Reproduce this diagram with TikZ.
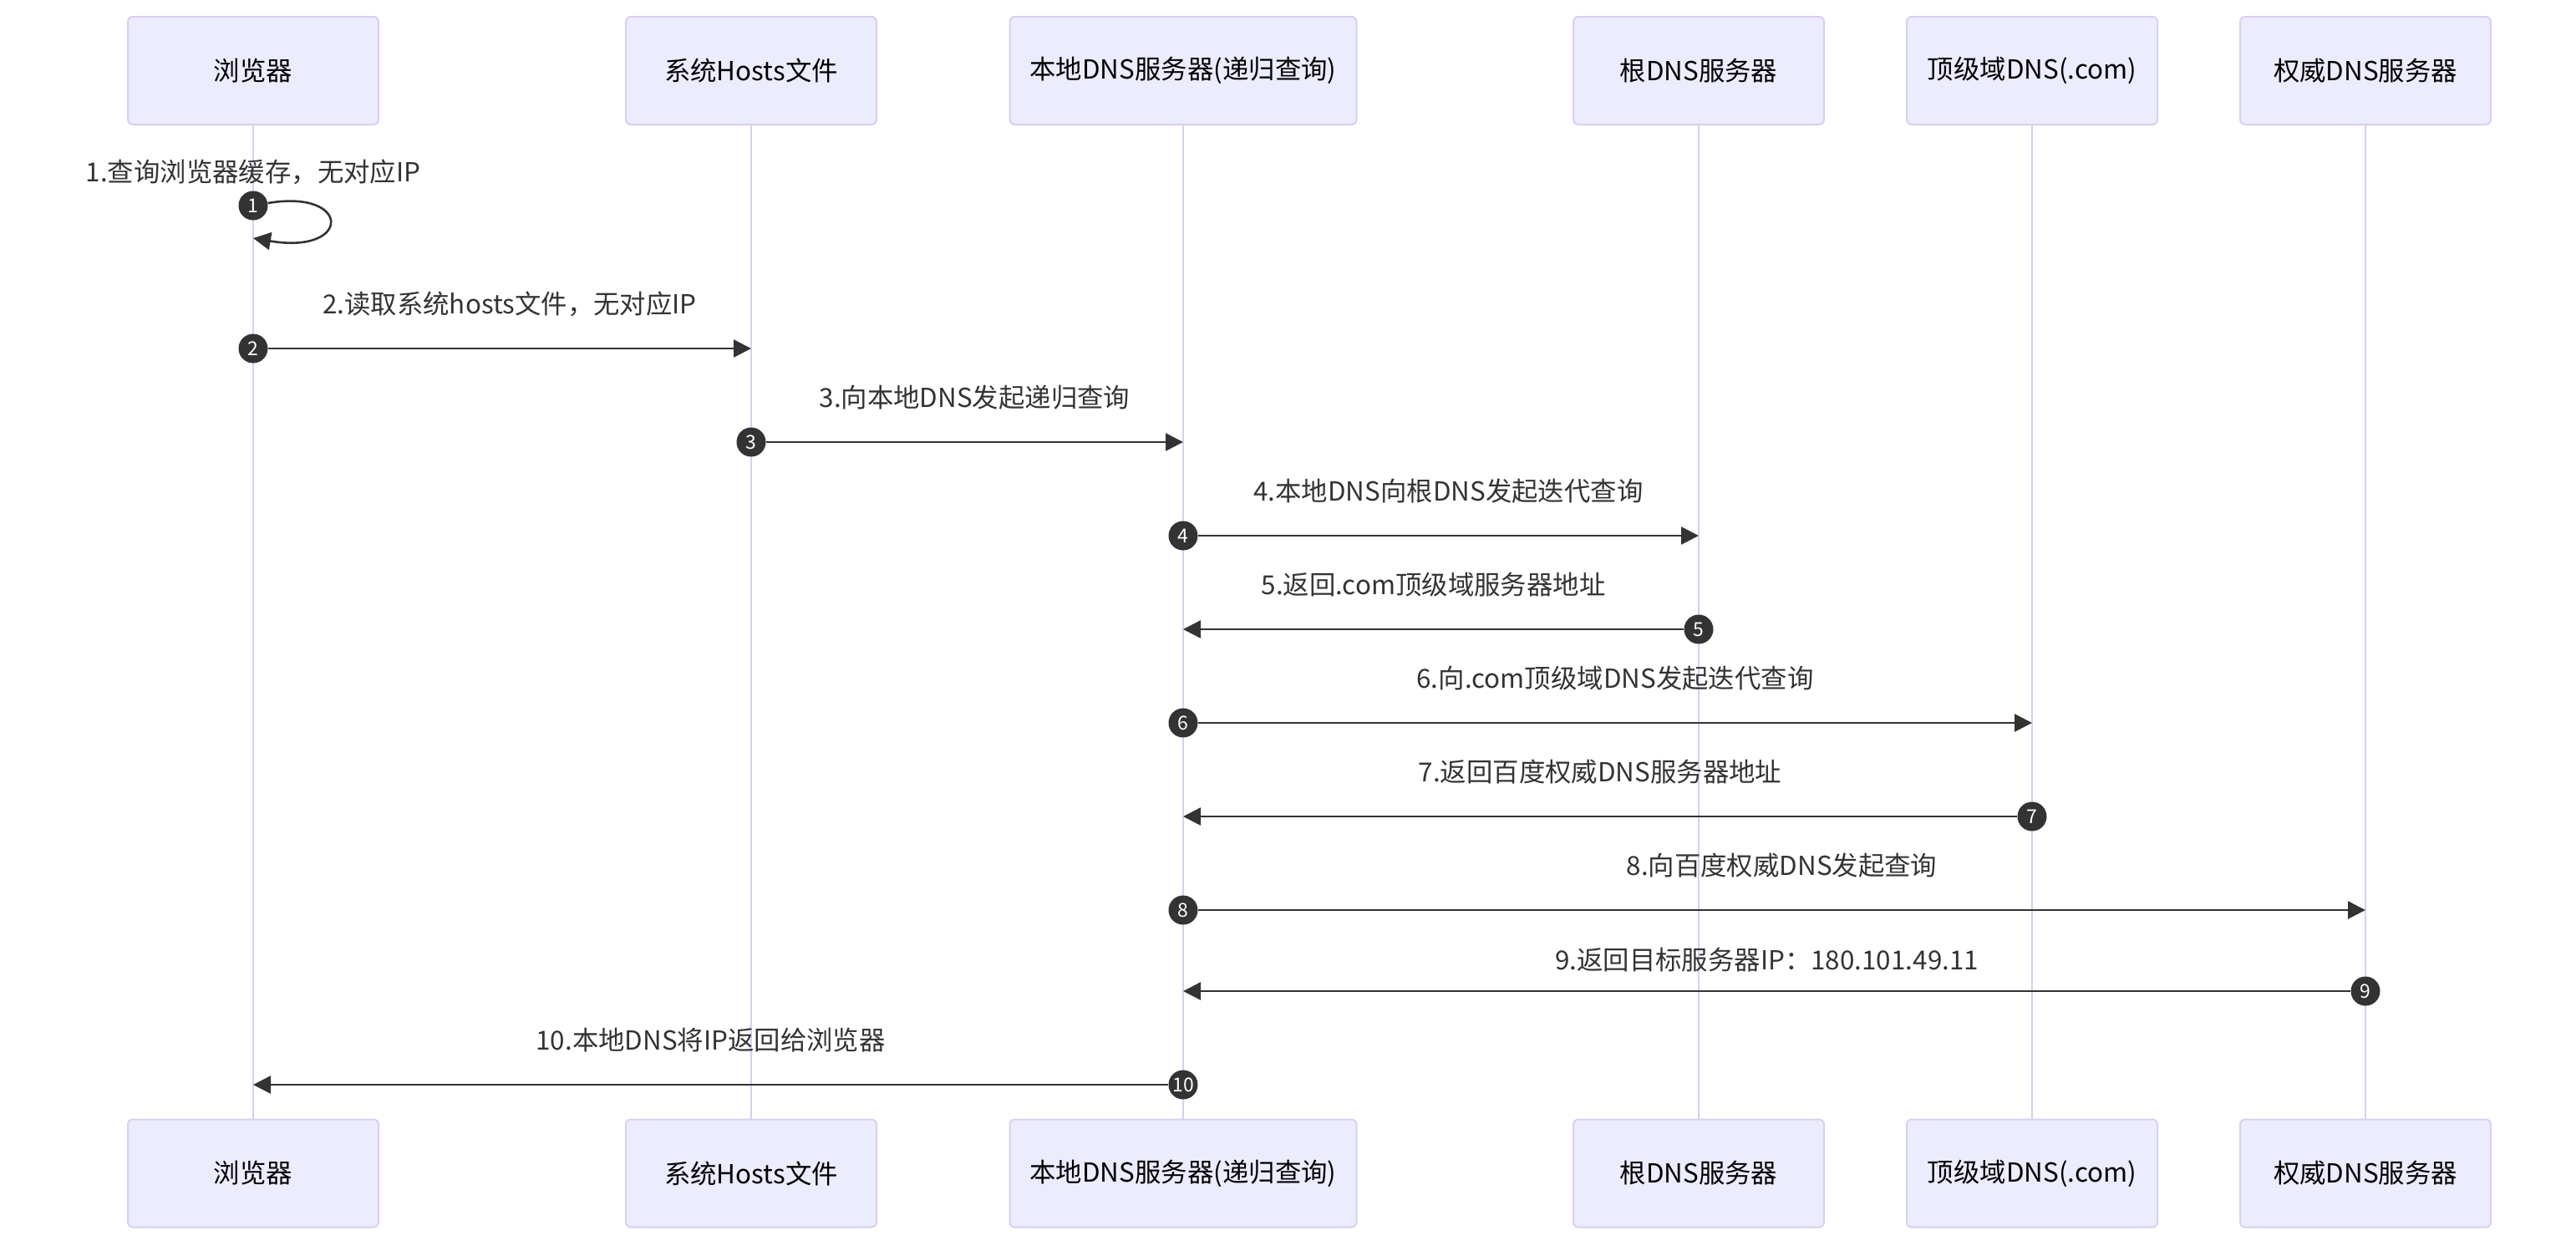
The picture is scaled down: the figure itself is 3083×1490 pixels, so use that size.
\documentclass[tikz,border=0pt]{standalone}
\usepackage{fontspec}
\setmainfont{Noto Sans CJK SC}
\usetikzlibrary{arrows.meta}
\definecolor{actorfill}{HTML}{ECECFF}
\definecolor{actorline}{RGB}{218,206,243}
\definecolor{signal}{HTML}{333333}
\newcommand{\widthactor}{150pt}
\newcommand{\widthlocal}{207.5pt}
\newcommand{\heightactor}{64.5pt}
\newcommand{\msgfont}{\fontsize{15.7}{18}\selectfont}
\tikzset{
    actor/.style={draw=actorline, fill=actorfill, line width=1pt, rounded corners=3pt, minimum width=\widthactor, minimum height=\heightactor, font=\msgfont},
    lifeline/.style={draw=actorline, line width=1pt},
    msg/.style={draw=signal, line width=1.3pt, -{Triangle[length=10.5pt, width=10.5pt]}},
    seqno/.style={circle, fill=signal, text=white, inner sep=0pt, minimum size=17.5pt, font=\fontsize{11.5}{12}\selectfont},
    msgtext/.style={font=\msgfont, text=signal, yshift=#1},
    msgtext/.default=26.5pt
}

\begin{document}
\begin{tikzpicture}[x=0.5pt, y=-0.5pt]
    \useasboundingbox (0,0) rectangle (3083,1490);

    \node[actor] (browser-top) at (303,84.5) {浏览器};
    \node[actor] (hosts-top) at (899,84.5) {系统Hosts文件};
    \node[actor, minimum width=\widthlocal] (local-top) at (1416,84.5) {本地DNS服务器(递归查询)};
    \node[actor] (root-top) at (2033,84.5) {根DNS服务器};
    \node[actor] (tld-top) at (2432,84.5) {顶级域DNS(.com)};
    \node[actor] (auth-top) at (2831,84.5) {权威DNS服务器};

    \node[actor] (browser-bottom) at (303,1404) {浏览器};
    \node[actor] (hosts-bottom) at (899,1404) {系统Hosts文件};
    \node[actor, minimum width=\widthlocal] (local-bottom) at (1416,1404) {本地DNS服务器(递归查询)};
    \node[actor] (root-bottom) at (2033,1404) {根DNS服务器};
    \node[actor] (tld-bottom) at (2432,1404) {顶级域DNS(.com)};
    \node[actor] (auth-bottom) at (2831,1404) {权威DNS服务器};

    \draw[lifeline] (browser-top) -- (browser-bottom);
    \draw[lifeline] (hosts-top) -- (hosts-bottom);
    \draw[lifeline] (local-top) -- (local-bottom);
    \draw[lifeline] (root-top) -- (root-bottom);
    \draw[lifeline] (tld-top) -- (tld-bottom);
    \draw[lifeline] (auth-top) -- (auth-bottom);

    \node[seqno] (s1) at (303,246) {1};
    \node[seqno] (s2) at (303,417) {2};
    \node[seqno] (s3) at (899,529) {3};
    \node[seqno] (s4) at (1416,641) {4};
    \node[seqno] (s5) at (2033,753) {5};
    \node[seqno] (s6) at (1416,865) {6};
    \node[seqno] (s7) at (2432,977) {7};
    \node[seqno] (s8) at (1416,1089) {8};
    \node[seqno] (s9) at (2831,1186) {9};
    \node[seqno] (s10) at (1416,1298) {10};

    \coordinate (e1) at (303,285);
    \coordinate (e2) at (899,417);
    \coordinate (e3) at (1416,529);
    \coordinate (e4) at (2033,641);
    \coordinate (e5) at (1416,753);
    \coordinate (e6) at (2432,865);
    \coordinate (e7) at (1416,977);
    \coordinate (e8) at (2831,1089);
    \coordinate (e9) at (1416,1186);
    \coordinate (e10) at (303,1298);

    \node[msgtext=20pt] (l1) at (s1) {1.查询浏览器缓存，无对应IP};
    \draw[msg] (s1) .. controls (421,226) and (421,305) .. (e1);
    \draw[msg] (s2) -- node[msgtext] (l2) {2.读取系统hosts文件，无对应IP} (e2);
    \draw[msg] (s3) -- node[msgtext] (l3) {3.向本地DNS发起递归查询} (e3);
    \draw[msg] (s4) -- node[msgtext] (l4) {4.本地DNS向根DNS发起迭代查询} (e4);
    \draw[msg] (s5) -- node[msgtext] (l5) {5.返回.com顶级域服务器地址} (e5);
    \draw[msg] (s6) -- node[msgtext] (l6) {6.向.com顶级域DNS发起迭代查询} (e6);
    \draw[msg] (s7) -- node[msgtext] (l7) {7.返回百度权威DNS服务器地址} (e7);
    \draw[msg] (s8) -- node[msgtext] (l8) {8.向百度权威DNS发起查询} (e8);
    \draw[msg] (s9) -- node[msgtext=18.5pt] (l9) {9.返回目标服务器IP：180.101.49.11} (e9);
    \draw[msg] (s10) -- node[msgtext] (l10) {10.本地DNS将IP返回给浏览器} (e10);
\end{tikzpicture}
\end{document}
